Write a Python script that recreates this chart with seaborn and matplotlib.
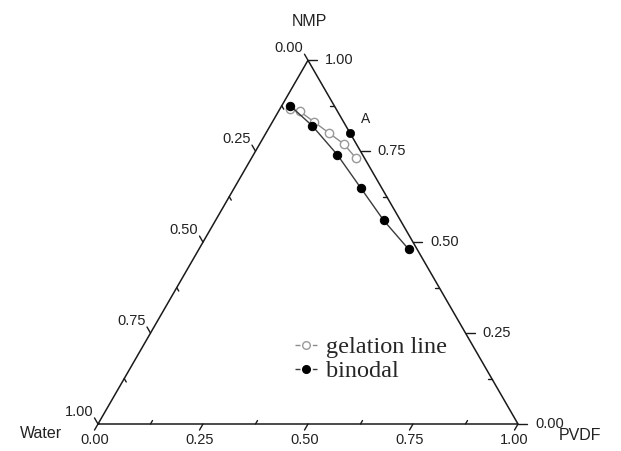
import numpy as np
import pandas as pd
import matplotlib
matplotlib.use("Agg")
import matplotlib.pyplot as plt
from matplotlib.lines import Line2D
import seaborn as sns

# Ternary compositions (mass fractions); water = 1 - PVDF - NMP
gel_pvdf = [0.025, 0.05, 0.10, 0.15, 0.20, 0.25]
gel_nmp = [0.865, 0.86, 0.83, 0.80, 0.77, 0.73]
binodal_pvdf = [0.02, 0.10, 0.20, 0.30, 0.40, 0.50]
binodal_nmp = [0.875, 0.82, 0.74, 0.65, 0.56, 0.48]
point_a_pvdf = [0.20]
point_a_nmp = [0.80]

axis_ticks = [0.00, 0.25, 0.50, 0.75, 1.00]
axis_tick_labels = ["0.00", "0.25", "0.50", "0.75", "1.00"]
minor_ticks = [0.125, 0.375, 0.625, 0.875]
corner_names = ["Water", "PVDF", "NMP"]
series_names = ["gelation line", "binodal"]

H = np.sqrt(3) / 2


def to_xy(pvdf, nmp):
    pvdf = np.asarray(pvdf, float)
    nmp = np.asarray(nmp, float)
    return pvdf + 0.5 * nmp, H * nmp


sns.set_theme(style="white")
plt.rcParams["font.family"] = ["Liberation Sans", "DejaVu Sans"]

FW, FH = 621, 451
fig = plt.figure(figsize=(FW / 100, FH / 100), dpi=100)
fig.patch.set_facecolor("white")
ax = fig.add_axes([0, 0, 1, 1])
scale = 420.0          # pixels per unit side length
x0, y0 = 98.0, 424.0   # pixel position of the Water corner
px = 1.0 / scale


def P(xp, yp):
    """pixel position (from top-left) -> data coordinates"""
    return (xp - x0) / scale, (y0 - yp) / scale


# triangle frame
tx, ty = to_xy([0, 1, 0, 0], [0, 0, 1, 0])
ax.plot(tx, ty, color="#1a1a1a", lw=1.1, solid_joinstyle="miter", zorder=2)

tick_kw = dict(color="#1a1a1a", lw=1.0, zorder=2)
fs_tick = 10.5
lab_col = "#222222"


def draw_axis(base_fn, out_dir, label_fn, major_len=7):
    out = np.array(out_dir)
    for v, lab in zip(axis_ticks, axis_tick_labels):
        b = np.array(base_fn(v))
        e = b + out * major_len * px
        ax.plot([b[0], e[0]], [b[1], e[1]], **tick_kw)
        label_fn(e, lab)
    for v in minor_ticks:
        b = np.array(base_fn(v))
        e = b - out * 4 * px
        ax.plot([b[0], e[0]], [b[1], e[1]], **tick_kw)


# bottom axis: PVDF fraction
draw_axis(lambda v: to_xy(v, 0.0), (-0.5, -H),
          lambda e, s: ax.text(e[0], e[1] - 3 * px, s, ha="center", va="top",
                               fontsize=fs_tick, color=lab_col))
# left axis: water fraction
draw_axis(lambda v: to_xy(0.0, 1.0 - v), (-0.5, H),
          lambda e, s: ax.text(e[0] - 1 * px, e[1] + 6 * px, s, ha="right", va="center",
                               fontsize=fs_tick, color=lab_col))
# right axis: NMP fraction
draw_axis(lambda v: to_xy(1.0 - v, v), (1.0, 0.0),
          lambda e, s: ax.text(e[0] + 8 * px, e[1], s, ha="left", va="center",
                               fontsize=fs_tick, color=lab_col), major_len=9)

# corner names
ax.text(*P(309, 22), corner_names[2], ha="center", va="center", fontsize=11.5, color=lab_col)
ax.text(*P(41, 433), corner_names[0], ha="center", va="center", fontsize=11.5, color=lab_col)
ax.text(*P(580, 436), corner_names[1], ha="center", va="center", fontsize=11.5, color=lab_col)

# series
gx, gy = to_xy(gel_pvdf, gel_nmp)
bx, by = to_xy(binodal_pvdf, binodal_nmp)
ax_, ay_ = to_xy(point_a_pvdf, point_a_nmp)
gel_df = pd.DataFrame({"x": gx, "y": gy})
bin_df = pd.DataFrame({"x": bx, "y": by})
a_df = pd.DataFrame({"x": ax_, "y": ay_})

gel_style = dict(color="#8c8c8c", lw=1.0, marker="o", markersize=6,
                 markerfacecolor="white", markeredgecolor="#999999", markeredgewidth=1.0)
bin_style = dict(color="#3a3a3a", lw=1.0, marker="o", markersize=6,
                 markerfacecolor="black", markeredgecolor="black")

sns.lineplot(data=gel_df, x="x", y="y", sort=False, ax=ax, zorder=3, **gel_style)
sns.lineplot(data=bin_df, x="x", y="y", sort=False, ax=ax, zorder=4, **bin_style)
sns.scatterplot(data=a_df, x="x", y="y", ax=ax, color="black", s=36, edgecolor="black",
                zorder=5, legend=False)
ax.text(a_df.x[0] + 16 * px, a_df.y[0] + 14 * px, "A", ha="center", va="center",
        fontsize=10, color=lab_col)

ax.set_xlim(-x0 / scale, (FW - x0) / scale)
ax.set_ylim(-(FH - y0) / scale, y0 / scale)
ax.axis("off")

# legend keys drawn as "-o-": a short dash on each side of the marker
dash = (0, (3.6, 8.9))
handles = [Line2D([], [], linestyle=dash, **gel_style),
           Line2D([], [], linestyle=dash, **bin_style)]
for h in handles:
    h.set_markersize(5.5)
ax.legend(handles, series_names, loc="upper left", bbox_to_anchor=P(295, 336),
          bbox_transform=ax.transData, frameon=False,
          prop={"family": "Liberation Serif", "size": 17.5},
          handlelength=0.92, handletextpad=0.35, labelspacing=0.1,
          borderpad=0, borderaxespad=0)

fig.savefig("out.png", dpi=100, facecolor="white")
